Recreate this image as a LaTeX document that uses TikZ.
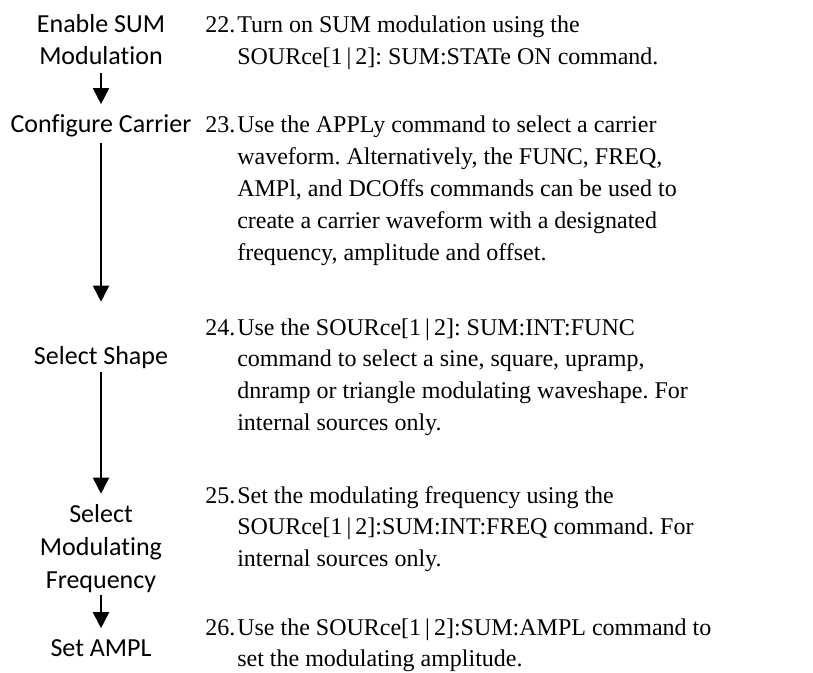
\documentclass[tikz,border=0pt]{standalone}
\usepackage{fontspec}
\setmainfont{Liberation Serif}
\newfontfamily\labelfont[Ligatures={NoCommon}]{Carlito}
\usetikzlibrary{arrows.meta}
\frenchspacing

\tikzset{
    steplabel/.style={anchor=base, align=center, inner sep=0pt,
        font=\labelfont\fontsize{19.5}{24.5}\selectfont},
    flowarrow/.style={line width=1.4pt, -{Triangle[length=12pt, width=12pt]}},
    itemnum/.style={anchor=base west, inner sep=0pt,
        font=\fontsize{18}{23.85}\selectfont},
    itemtext/.style={anchor=base west, align=left, inner sep=0pt,
        font=\fontsize{18}{23.85}\selectfont},
}

\begin{document}
\begin{tikzpicture}[x=0.75pt, y=-0.75pt]
    \useasboundingbox (0,0) rectangle (813,673);

    % Steps of the flow on the left, one column
    % (base of a node with several lines = its last line)
    \def\stepx{101}
    \node[steplabel] (enable) at (\stepx, 65) {Enable SUM\\Modulation};
    \node[steplabel] (carrier) at (\stepx, 133) {Configure Carrier};
    \node[steplabel] (shape) at (\stepx, 364) {Select Shape};
    \node[steplabel] (freq) at (\stepx, 588) {Select\\Modulating\\Frequency};
    \node[steplabel] (ampl) at (\stepx, 656) {Set AMPL};

    % Arrows between the steps
    \draw[flowarrow, shorten <=6pt, shorten >=8pt] (enable.base) -- (carrier.north);
    \draw[flowarrow, shorten <=4pt, shorten >=33pt] (carrier) -- (shape);
    \draw[flowarrow, shorten <=3pt, shorten >=8pt] (shape) -- (freq);
    \draw[flowarrow, shorten <=2pt, shorten >=8pt] (freq) -- (ampl);

    % Numbered instructions on the right
    \def\numx{205}
    \def\textx{237}
    \def\pitch{31.8}
    \foreach \num/\ypos/\lines/\txt in {
        22/33/2/{Turn on SUM modulation using the\\
            SOURce[1\,|\,2]: SUM:STATe ON command.},
        23/133/5/{Use the APPLy command to select a carrier\\
            waveform. Alternatively, the FUNC, FREQ,\\
            AMPl, and DCOffs commands can be used to\\
            create a carrier waveform with a designated\\
            frequency, amplitude and offset.},
        24/335/4/{Use the SOURce[1\,|\,2]: SUM:INT:FUNC\\
            command to select a sine, square, upramp,\\
            dnramp or triangle modulating waveshape. For\\
            internal sources only.},
        25/503/3/{Set the modulating frequency using the\\
            SOURce[1\,|\,2]:SUM:INT:FREQ command. For\\
            internal sources only.},
        26/635/2/{Use the SOURce[1\,|\,2]:SUM:AMPL command to\\
            set the modulating amplitude.}} {
        \pgfmathsetmacro\ylast{\ypos + (\lines - 1)*\pitch}
        \node[itemnum] (num\num) at (\numx, \ypos) {\num.};
        \node[itemtext] (item\num) at (\textx, \ylast) {\txt};
    }

\end{tikzpicture}
\end{document}
